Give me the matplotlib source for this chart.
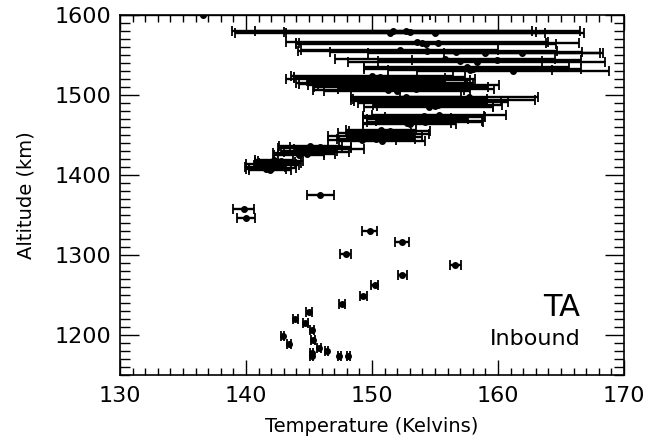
import matplotlib
matplotlib.use("Agg")
import matplotlib.pyplot as plt
from matplotlib.ticker import MultipleLocator

plt.rcParams['font.family'] = ['DejaVu Sans']

# temperature (K), altitude (km), half width of error bar (K)
temp = [136.6, 151.4, 152.7, 155.0, 151.7, 153.0,
        153.6, 154.3, 155.2, 154.0,
        152.2, 154.4, 159.0, 161.9, 156.7,
        155.8, 158.3, 159.9, 157.0,
        157.5, 161.2, 158.0, 157.8,
        # 1505-1524 km
        152.0, 151.3, 153.5, 152.3, 151.6, 152.5, 150.8, 151.0, 150.3, 151.5,
        150.7, 149.8, 150.6, 150.0,
        # 1485-1497 km
        154.5, 155.0, 155.2, 154.0, 156.0, 154.4, 155.6, 153.8, 152.7, 157.7,
        # 1463-1476 km
        153.0, 152.8, 154.2, 154.5, 153.6, 152.8, 155.0, 154.1, 155.3,
        # 1442-1457 km
        150.8, 149.2, 150.3, 151.0, 149.9, 150.6, 151.3, 150.2, 151.4, 150.7,
        # 1424-1436 km
        144.2, 144.8, 144.15, 145.6, 145.0, 146.6, 145.4, 145.9, 145.1,
        # 1406-1419 km
        141.9, 141.6, 142.1, 141.5, 142.4, 142.0, 142.7, 142.3, 142.75, 142.2,
        # below 1400 km
        145.9, 139.8, 140.0, 149.8, 152.4, 156.6, 147.9, 152.4,
        150.2, 149.3, 147.6, 145.0, 143.9, 144.7, 145.2, 142.9,
        145.3, 143.4, 145.8, 146.4, 145.2, 145.2, 147.4, 148.1]
alt = [1600, 1577, 1580, 1578, 1579.5, 1578.5,
       1566.5, 1563.5, 1565, 1564.5,
       1556, 1555, 1552, 1553, 1554,
       1545, 1541.5, 1543.5, 1542.5,
       1535, 1530, 1533, 1531.5,
       1505, 1506.5, 1508, 1509.5, 1511, 1512.5, 1514, 1515.5, 1517, 1518.5,
       1520, 1521.5, 1523, 1524,
       1485, 1486.5, 1488, 1489.5, 1491, 1492.5, 1494, 1495.5, 1497, 1497,
       1463.5, 1465, 1466.5, 1468, 1469.5, 1471, 1472.5, 1474, 1475.5,
       1442.5, 1444, 1445.5, 1447, 1448.5, 1450, 1451.5, 1453, 1454.5, 1456,
       1424.5, 1426, 1427.5, 1429, 1430.5, 1432, 1433.5, 1435, 1436,
       1406, 1407.5, 1409, 1410.5, 1412, 1413.5, 1415, 1416.5, 1418, 1419,
       1375, 1358, 1346, 1330, 1316, 1288, 1301, 1275,
       1263, 1249, 1239, 1229, 1220, 1215, 1206, 1199,
       1194, 1189, 1184, 1180, 1178, 1174, 1174, 1174]
err = [18.0, 12.3, 13.8, 11.8, 11.0, 10.0,
       10.4, 10.3, 11.2, 9.8,
       7.8, 10.3, 9.3, 6.2, 10.0,
       8.7, 10.2, 6.7, 6.5,
       8.1, 7.6, 8.6, 6.5,
       5.8, 6.0, 6.2, 6.9, 5.9, 7.6, 6.6, 7.0, 5.5, 6.3,
       7.5, 6.0, 6.8, 6.4,
       5.1, 4.6, 5.1, 5.1, 4.8, 5.8, 7.3, 5.3, 4.4, 5.5,
       3.7, 3.5, 4.6, 4.2, 4.0, 3.5, 4.0, 4.8, 5.3,
       3.4, 2.7, 3.1, 3.0, 3.4, 2.6, 3.2, 2.9, 3.2, 2.8,
       2.0, 2.3, 2.0, 2.6, 2.2, 2.8, 2.9, 2.4, 2.5,
       1.7, 1.6, 1.9, 1.6, 1.8, 2.0, 1.7, 1.6, 1.8, 1.5,
       1.1, 0.83, 0.73, 0.6, 0.55, 0.45, 0.42, 0.35,
       0.3, 0.28, 0.25, 0.22, 0.2, 0.18, 0.16, 0.15,
       0.15, 0.14, 0.13, 0.12, 0.12, 0.12, 0.12, 0.12]

fig = plt.figure(figsize=(6.47, 4.45), dpi=100)
ax = fig.add_axes([0.1855, 0.1573, 0.779, 0.809])

ax.errorbar(temp, alt, xerr=err, fmt='o', color='black', ms=4,
            elinewidth=1.7, capsize=3.5, capthick=1.3)

ax.set_xlim(130, 170)
ax.set_ylim(1150, 1600)
ax.xaxis.set_major_locator(MultipleLocator(10))
ax.xaxis.set_minor_locator(MultipleLocator(1))
ax.yaxis.set_major_locator(MultipleLocator(100))
ax.yaxis.set_minor_locator(MultipleLocator(10))
ax.tick_params(which='both', direction='in', top=True, right=True, width=1.0)
ax.tick_params(axis='x', which='major', length=11, labelsize=16, pad=8)
ax.tick_params(axis='x', which='minor', length=5)
ax.tick_params(axis='y', which='major', length=14, labelsize=16, pad=6)
ax.tick_params(axis='y', which='minor', length=7)
for s in ax.spines.values():
    s.set_linewidth(1.2)

ax.set_xlabel("Temperature (Kelvins)", fontsize=14, labelpad=8)
ax.set_ylabel("Altitude (km)", fontsize=14, labelpad=14)

ax.text(0.913, 0.165, "TA", transform=ax.transAxes, ha='right', va='baseline', fontsize=22)
ax.text(0.913, 0.083, "Inbound", transform=ax.transAxes, ha='right', va='baseline', fontsize=16)

plt.savefig("out.png", dpi=100)
